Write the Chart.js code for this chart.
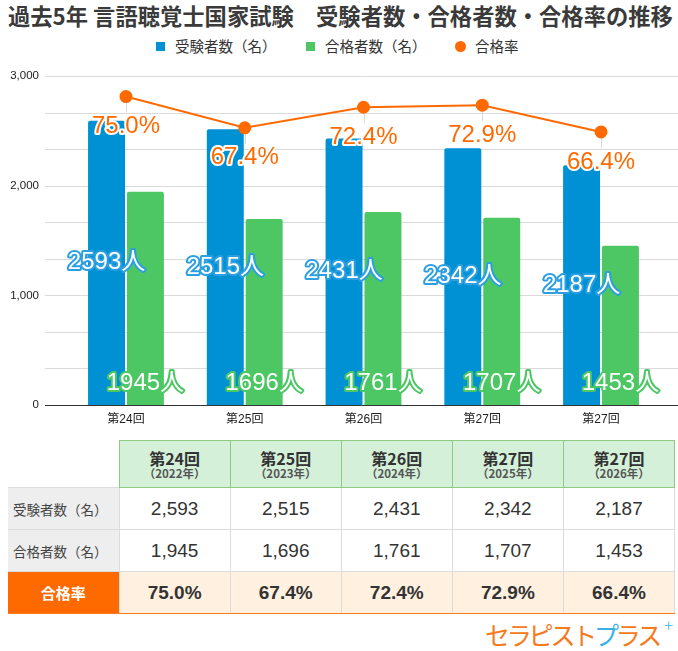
<!DOCTYPE html>
<html lang="ja">
<head>
<meta charset="utf-8">
<script src="https://cdn.jsdelivr.net/npm/chart.js@4.4.1/dist/chart.umd.min.js"></script>
<style>
  body { margin: 0; background: #fff; font-family: "Liberation Sans", "Noto Sans CJK JP", sans-serif; color: #333; }
  #wrap { position: relative; width: 678px; height: 651px; overflow: hidden; }
  #title { position: absolute; left: 8px; top: 0px; font-family: "Noto Sans CJK JP", sans-serif; font-size: 22.3px; font-weight: bold; color: #3a3a3a; white-space: pre; line-height: 30px; }
  .lg { position: absolute; top: 37px; font-family: "Noto Sans CJK JP", sans-serif; font-size: 14.5px; color: #333; line-height: 18px; white-space: pre; }
  .sw { position: absolute; width: 9px; height: 9px; top: 42px; }
  #chartBox { position: absolute; left: 0; top: 60px; width: 678px; height: 370px; }
  #tbl { position: absolute; left: 8px; top: 440px; border-collapse: collapse; table-layout: fixed; width: 667px; }
  #tbl th, #tbl td { padding: 0; text-align: center; vertical-align: middle; }
  #tbl thead tr { height: 47px; }
  #tbl tbody tr { height: 42px; }
  #tbl th { background: #d4f0d9; border: 1px solid #8ecb7f; color: #333; font-family: "Noto Sans CJK JP", sans-serif; }
  #tbl th.blank { background: #fff; border: none; }
  #tbl th .r { display: block; font-size: 16px; line-height: 18px; font-weight: bold; }
  #tbl th .y { display: block; font-size: 11.5px; line-height: 13px; font-weight: bold; color: #555; }
  #tbl td { border: 1px solid #dcdcdc; font-size: 19px; color: #333; }
  #tbl td.lab { background: #eeeeee; text-align: left; padding-left: 5px; font-family: "Noto Sans CJK JP", sans-serif; font-size: 13.5px; color: #444; border-left: none; }
  #tbl tr.rate td { background: #fff0e0; font-weight: bold; border-top: 1.5px solid #ff7a1a; border-bottom: 1.5px solid #ff7a1a; }
  #tbl tr.rate td.lab { background: #ff6a00; color: #fff; text-align: center; padding-left: 0; font-size: 15px; }
  #logo { position: absolute; left: 485px; top: 618px; font-family: "Noto Sans CJK JP", sans-serif; font-weight: 400; font-size: 25px; letter-spacing: -3.2px; line-height: 32px; color: #f47a1c; white-space: pre; }
  #logo .b { color: #3aafe8; }
  #logo sup { position: absolute; left: 179px; top: -9px; font-size: 17px; font-weight: 300; letter-spacing: 0; color: #3aafe8; }
</style>
</head>
<body>
<div id="wrap">
  <div id="title">過去5年 言語聴覚士国家試験　受験者数・合格者数・合格率の推移</div>
  <div class="sw" style="left:156px;background:#0091d5"></div>
  <div class="lg" style="left:175px">受験者数（名）</div>
  <div class="sw" style="left:306px;background:#4cc764"></div>
  <div class="lg" style="left:325px">合格者数（名）</div>
  <div class="sw" style="left:455px;width:11px;height:11px;top:41px;border-radius:50%;background:#ff6a00"></div>
  <div class="lg" style="left:475px">合格率</div>
  <div id="chartBox"><canvas id="examChart"></canvas></div>
  <table id="tbl"></table>
  <div id="logo">セラピスト<span class="b">プ</span>ラス<sup>+</sup></div>
</div>
<script>
const rounds = ["第24回", "第25回", "第26回", "第27回", "第27回"];
const years = ["2022年", "2023年", "2024年", "2025年", "2026年"];
const examinees = [2593, 2515, 2431, 2342, 2187];
const passers = [1945, 1696, 1761, 1707, 1453];
const passRates = [75.0, 67.4, 72.4, 72.9, 66.4];

const BLUE = "#0091d5";
const GREEN = "#4cc764";
const ORANGE = "#ff6a00";
const FONT = '"Liberation Sans", "Noto Sans CJK JP", sans-serif';

// 表
const tbl = document.getElementById("tbl");
let html = '<colgroup>' + '<col style="width:111px">'.repeat(6) + '</colgroup>';
html += '<thead><tr><th class="blank"></th>';
rounds.forEach((r, i) => {
    html += '<th><span class="r">' + r + '</span><span class="y">（' + years[i] + '）</span></th>';
});
html += '</tr></thead><tbody>';
html += '<tr><td class="lab">受験者数（名）</td>' + examinees.map(v => '<td>' + v.toLocaleString("en-US") + '</td>').join("") + '</tr>';
html += '<tr><td class="lab">合格者数（名）</td>' + passers.map(v => '<td>' + v.toLocaleString("en-US") + '</td>').join("") + '</tr>';
html += '<tr class="rate"><td class="lab">合格率</td>' + passRates.map(v => '<td>' + v.toFixed(1) + '%</td>').join("") + '</tr>';
html += '</tbody>';
tbl.innerHTML = html;

// 横グリッド線（左端まで伸ばす）
const gridPlugin = {
    id: "wideGrid",
    beforeDatasetsDraw(chart) {
        const c = chart.ctx;
        const y = chart.scales.y;
        c.save();
        c.strokeStyle = "#dadada";
        c.lineWidth = 1;
        y.ticks.forEach(t => {
            if (t.value === 0) return;
            const py = Math.round(y.getPixelForValue(t.value)) + 0.5;
            c.beginPath();
            c.moveTo(45, py);
            c.lineTo(chart.width, py);
            c.stroke();
        });
        // 合格率の注釈の線
        const m = chart.getDatasetMeta(2);
        c.strokeStyle = "#d8d8d8";
        m.data.forEach(p => {
            const px = Math.round(p.x) + 0.5;
            c.beginPath();
            c.moveTo(px, p.y);
            c.lineTo(px, p.y + 16);
            c.stroke();
        });
        c.restore();
    },
    afterDatasetsDraw(chart) {
        const c = chart.ctx;
        const py = Math.round(chart.scales.y.getPixelForValue(0)) + 0.5;
        c.save();
        c.strokeStyle = "#333";
        c.lineWidth = 1;
        c.beginPath();
        c.moveTo(45, py);
        c.lineTo(chart.width, py);
        c.stroke();
        c.restore();
    }
};

// 値ラベル
const labelPlugin = {
    id: "valueLabels",
    afterDraw(chart) {
        const c = chart.ctx;
        const base = chart.scales.y.getPixelForValue(0);
        c.save();
        c.font = "24px " + FONT;
        c.textAlign = "center";
        c.textBaseline = "middle";
        c.lineJoin = "round";
        c.lineWidth = 4;
        const draw = (txt, x, y, stroke, fill) => {
            c.strokeStyle = stroke;
            c.strokeText(txt, x, y);
            c.fillStyle = fill;
            c.fillText(txt, x, y);
        };
        chart.getDatasetMeta(0).data.forEach((b, i) => {
            draw(examinees[i] + "人", b.x, (b.y + b.base) / 2, "#2b9fe0", "#fff");
        });
        chart.getDatasetMeta(1).data.forEach((b, i) => {
            draw(passers[i] + "人", b.x, base - 22, "#4cc764", "#fff");
        });
        chart.getDatasetMeta(2).data.forEach((p, i) => {
            draw(passRates[i].toFixed(1) + "%", p.x, p.y + 30, "#fff", ORANGE);
        });
        c.restore();
    }
};

const ctx = document.getElementById("examChart").getContext("2d");
new Chart(ctx, {
    type: "bar",
    data: {
        labels: rounds,
        datasets: [
            {
                label: "受験者数（名）",
                data: examinees,
                backgroundColor: BLUE,
                yAxisID: "y",
                order: 1,
                barPercentage: 0.95,
                categoryPercentage: 0.655,
                borderRadius: 2,
                borderSkipped: "bottom"
            },
            {
                label: "合格者数（名）",
                data: passers,
                backgroundColor: GREEN,
                yAxisID: "y",
                order: 1,
                barPercentage: 0.95,
                categoryPercentage: 0.655,
                borderRadius: 2,
                borderSkipped: "bottom"
            },
            {
                type: "line",
                label: "合格率",
                data: passRates,
                yAxisID: "y2",
                order: 0,
                borderColor: ORANGE,
                backgroundColor: ORANGE,
                borderWidth: 2,
                pointRadius: 5.5,
                pointHoverRadius: 5.5,
                tension: 0
            }
        ]
    },
    options: {
        responsive: true,
        maintainAspectRatio: false,
        animation: false,
        layout: { padding: { top: 16, right: 17.6, left: 0, bottom: 0 } },
        plugins: {
            legend: { display: false },
            tooltip: { enabled: false }
        },
        scales: {
            x: {
                grid: { display: false, drawTicks: false },
                border: { display: false },
                ticks: { color: "#222", font: { size: 12, family: FONT }, padding: 7 },
                afterFit(s) { s.height = 25; }
            },
            y: {
                min: 0,
                max: 3000,
                grid: { display: false, drawTicks: false },
                border: { display: false },
                afterBuildTicks(s) {
                    s.ticks = [...Array(10).keys()].map(i => ({ value: i * 1000 / 3 }));
                },
                ticks: {
                    color: "#222",
                    font: { size: 11.5, family: FONT },
                    padding: 27.6,
                    callback(v) {
                        const r = Math.round(v);
                        return r % 1000 === 0 ? r.toLocaleString("en-US") : "";
                    }
                },
                afterFit(s) {
                    s.width = 66.6;
                    s.paddingTop = 8;
                    s.paddingBottom = 8;
                }
            },
            y2: { display: false, min: 0, max: 80 }
        }
    },
    plugins: [gridPlugin, labelPlugin]
});
</script>
</body>
</html>
